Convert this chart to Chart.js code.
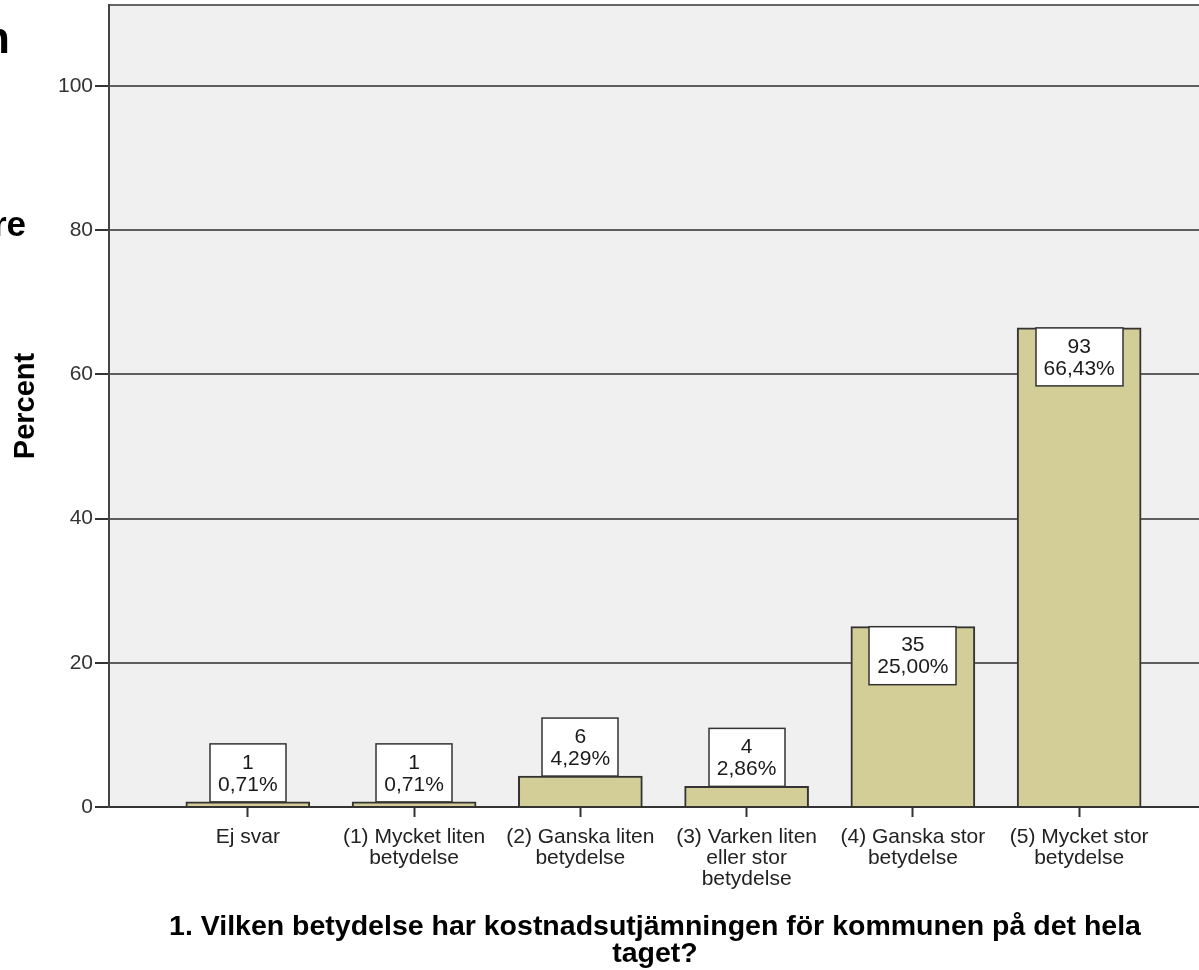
<!DOCTYPE html>
<html>
<head>
<meta charset="utf-8">
<script src="https://cdn.jsdelivr.net/npm/chart.js@4/dist/chart.umd.min.js"></script>
<style>
  body { margin: 0; overflow: hidden; background: #fff; width: 1199px; height: 970px; position: relative; font-family: "Liberation Sans", Arial, sans-serif; }
  #wrap { position: absolute; left: 0; top: 0; width: 1201px; height: 970px; }
  .cut { position: absolute; font-weight: bold; color: #000; line-height: 1; white-space: nowrap; }
</style>
</head>
<body>
<div id="wrap"><canvas id="bar_chart" width="1201" height="970"></canvas></div>
<div class="cut" style="left:-17px;top:16px;font-size:44px;">n</div>
<div class="cut" style="left:-7px;top:206px;font-size:35px;">re</div>
<script>
'use strict';

// Data
const categories = [
  'Ej svar',
  ['(1) Mycket liten', 'betydelse'],
  ['(2) Ganska liten', 'betydelse'],
  ['(3) Varken liten', 'eller stor', 'betydelse'],
  ['(4) Ganska stor', 'betydelse'],
  ['(5) Mycket stor', 'betydelse']
];
const counts = [1, 1, 6, 4, 35, 93];
const percents = [0.71, 0.71, 4.29, 2.86, 25.00, 66.43];
const yTicks = [0, 20, 40, 60, 80, 100];
const xTitle = ['1. Vilken betydelse har kostnadsutjämningen för kommunen på det hela', 'taget?'];
const yTitle = 'Percent';

Chart.defaults.font.family = '"Liberation Sans", Arial, sans-serif';

// grey plot background + top frame line
const plotFrame = {
  id: 'plotFrame',
  beforeDraw(chart) {
    const {ctx, chartArea: a} = chart;
    ctx.save();
    ctx.fillStyle = '#f0f0f0';
    ctx.fillRect(a.left, a.top, a.right - a.left, a.bottom - a.top);
    ctx.strokeStyle = '#666';
    ctx.lineWidth = 2;
    ctx.beginPath();
    ctx.moveTo(a.left, a.top);
    ctx.lineTo(a.right, a.top);
    ctx.stroke();
    ctx.restore();
  }
};

// count / percent boxes on the bars
const boxLabels = {
  id: 'boxLabels',
  afterDatasetsDraw(chart) {
    const ctx = chart.ctx;
    const meta = chart.getDatasetMeta(0);
    ctx.save();
    ctx.font = '21px "Liberation Sans", Arial, sans-serif';
    ctx.textAlign = 'center';
    ctx.textBaseline = 'middle';
    meta.data.forEach((bar, i) => {
      const lines = [String(counts[i]), percents[i].toFixed(2).replace('.', ',') + '%'];
      const w = Math.round(Math.max(...lines.map(t => ctx.measureText(t).width)) + 16);
      const h = 58;
      const top = (bar.base - bar.y) > h ? bar.y : bar.y - h;
      const left = Math.round(bar.x - w / 2);
      ctx.fillStyle = '#fff';
      ctx.fillRect(left, top, w, h);
      ctx.strokeStyle = '#333';
      ctx.lineWidth = 1.5;
      ctx.strokeRect(left, top, w, h);
      ctx.fillStyle = '#1a1a1a';
      ctx.fillText(lines[0], bar.x, top + 19);
      ctx.fillText(lines[1], bar.x, top + 41);
    });
    ctx.restore();
  }
};

new Chart(document.getElementById('bar_chart'), {
  type: 'bar',
  data: {
    datasets: [{
      data: percents.map((v, i) => ({x: i, y: v})),
      backgroundColor: '#d3ce97',
      borderColor: '#333',
      borderWidth: 2,
      barThickness: 124
    }]
  },
  plugins: [plotFrame, boxLabels],
  options: {
    responsive: false,
    animation: false,
    layout: {
      padding: {top: 5, left: 0, right: 0, bottom: 0}
    },
    plugins: {
      legend: {display: false},
      tooltip: {enabled: false}
    },
    scales: {
      x: {
        type: 'linear',
        offset: false,
        min: -0.835,
        max: 5.733,
        afterBuildTicks: s => { s.ticks = categories.map((c, i) => ({value: i})); },
        afterFit: s => { s.height = 163; s.paddingLeft = 0; s.paddingRight = 0; },
        ticks: {
          callback: v => categories[v],
          autoSkip: false,
          maxRotation: 0,
          padding: 10,
          color: '#222',
          font: {size: 21, lineHeight: 1}
        },
        grid: {
          offset: false,
          drawOnChartArea: false,
          drawTicks: true,
          tickLength: 10,
          tickColor: '#333',
          tickWidth: 2
        },
        border: {display: true, color: '#333', width: 2},
        title: {
          display: true,
          text: xTitle,
          color: '#000',
          font: {size: 28.5, weight: 'bold', lineHeight: 0.95},
          padding: {top: 0, bottom: 2}
        }
      },
      y: {
        min: 0,
        max: 111.2,
        afterBuildTicks: s => { s.ticks = yTicks.map(v => ({value: v})); },
        afterFit: s => { s.width = 109; s.paddingTop = 0; s.paddingBottom = 0; },
        ticks: {
          padding: 2,
          color: '#333',
          font: {size: 21}
        },
        grid: {
          color: '#5e5e5e',
          lineWidth: 2,
          tickLength: 14,
          tickColor: '#333',
          drawTicks: true
        },
        border: {display: true, color: '#444', width: 2},
        title: {
          display: true,
          text: yTitle,
          color: '#000',
          font: {size: 29, weight: 'bold'},
          padding: {top: 9, bottom: 0}
        }
      }
    }
  }
});
</script>
</body>
</html>
